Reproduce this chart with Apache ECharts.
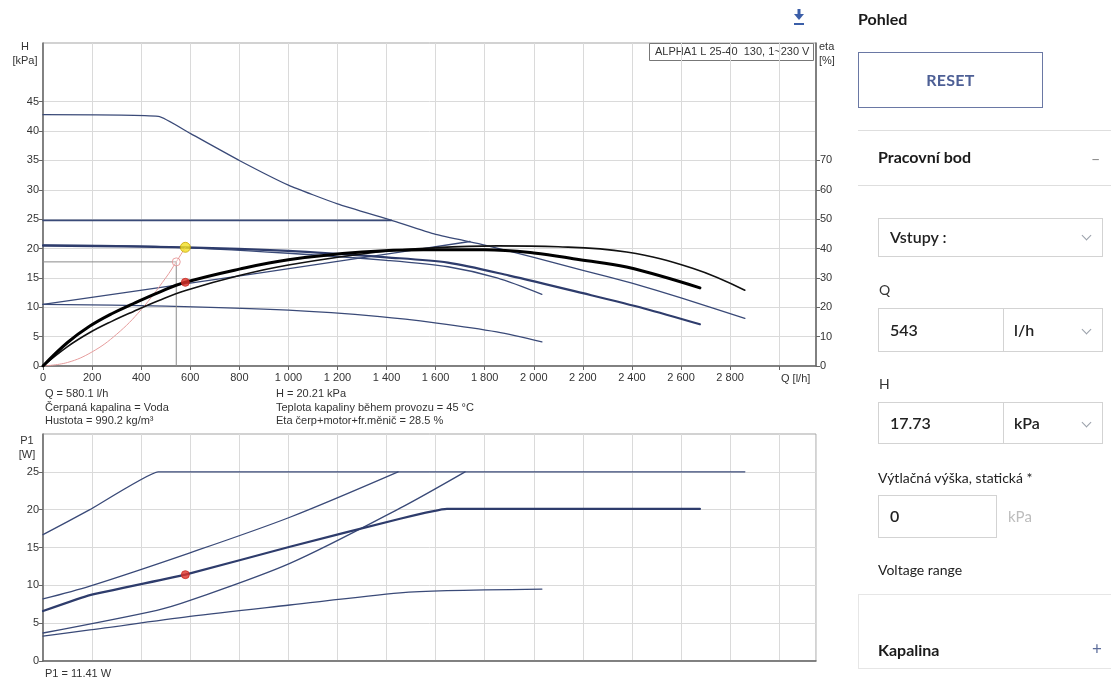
<!DOCTYPE html>
<html>
<head>
<meta charset="utf-8">
<title>ALPHA1 L 25-40 130</title>
<script src="https://cdn.jsdelivr.net/npm/echarts@6/dist/echarts.min.js"></script>
<style>
  html, body { margin: 0; padding: 0; background: #fff; width: 1111px; height: 679px; overflow: hidden; }
  #chart { position: absolute; left: 0; top: 0; width: 845px; height: 679px; }
  #panel { position: absolute; left: 0; top: 0; width: 1111px; height: 679px; pointer-events: none;
           font-family: Lato, "Noto Sans", sans-serif; color: #1a1a1a; }
  #panel div { position: absolute; }
  .t { white-space: nowrap; line-height: 20px; }
  .b { font-weight: 700; font-size: 16px; }
  .lbl { font-size: 14px; color: #333; }
  .box { border: 1px solid #d3d3d3; box-sizing: border-box; }
  .val { font-size: 16px; font-weight: 600; color: #222; }
  .hr { height: 1px; background: #dedede; }
  .chev { width: 6px; height: 6px; border-right: 1px solid #9aa0aa; border-bottom: 1px solid #9aa0aa; transform: rotate(45deg); }
</style>
</head>
<body>
<div id="chart"></div>
<div id="panel">
  <div class="t b" style="left:858px; top:9px;">Pohled</div>
  <div style="left:858px; top:52px; width:185px; height:56px; border:1px solid #6a78a4; box-sizing:border-box;"></div>
  <div class="t b" style="left:858px; top:70px; width:185px; text-align:center; color:#4d5f95; letter-spacing:0.3px;">RESET</div>
  <div class="hr" style="left:858px; top:130px; width:253px;"></div>
  <div class="t b" style="left:878px; top:147px;">Pracovní bod</div>
  <div class="t" style="left:1091px; top:148px; font-size:16px; color:#888;">–</div>
  <div class="hr" style="left:858px; top:185px; width:253px;"></div>

  <div class="box" style="left:878px; top:218px; width:225px; height:39px;"></div>
  <div class="t val" style="left:890px; top:227px;">Vstupy :</div>
  <div class="chev" style="left:1083px; top:232px;"></div>

  <div class="t lbl" style="left:879px; top:280px;">Q</div>
  <div class="box" style="left:878px; top:308px; width:126px; height:44px;"></div>
  <div class="box" style="left:1003px; top:308px; width:100px; height:44px;"></div>
  <div class="t val" style="left:890px; top:320px;">543</div>
  <div class="t val" style="left:1014px; top:320px;">l/h</div>
  <div class="chev" style="left:1083px; top:326px;"></div>

  <div class="t lbl" style="left:879px; top:374px;">H</div>
  <div class="box" style="left:878px; top:402px; width:126px; height:42px;"></div>
  <div class="box" style="left:1003px; top:402px; width:100px; height:42px;"></div>
  <div class="t val" style="left:890px; top:413px;">17.73</div>
  <div class="t val" style="left:1014px; top:413px;">kPa</div>
  <div class="chev" style="left:1083px; top:419px;"></div>

  <div class="t lbl" style="left:878px; top:468px; color:#222;">Výtlačná výška, statická *</div>
  <div class="box" style="left:878px; top:495px; width:119px; height:43px;"></div>
  <div class="t val" style="left:890px; top:506px;">0</div>
  <div class="t" style="left:1008px; top:506px; font-size:15px; color:#bdbdbd;">kPa</div>

  <div class="t lbl" style="left:878px; top:560px; color:#222;">Voltage range</div>

  <div style="left:858px; top:594px; width:253px; height:75px; border:1px solid #e6e6e6; border-right:none; box-sizing:border-box;"></div>
  <div class="t b" style="left:878px; top:640px;">Kapalina</div>
  <div class="t" style="left:1092px; top:639px; font-size:17px; color:#5d6d9b;">+</div>
</div>

<script>
// ---- Flow axis (Q, l/h) ----
const qMin = 0, qMax = 3150, qStep = 200;
const qTicks = [0, 200, 400, 600, 800, 1000, 1200, 1400, 1600, 1800, 2000, 2200, 2400, 2600, 2800, 3000];

// ---- Labelled ticks on the value axes ----
const hTicks   = [0, 5, 10, 15, 20, 25, 30, 35, 40, 45];
const etaTicks = [0, 10, 20, 30, 40, 50, 60, 70];
const p1Ticks  = [0, 5, 10, 15, 20, 25];

// ---- Pump curves, head H [kPa] vs Q [l/h] ----
const hMax      = [[0,42.8],[470,42.5],[600,39.6],[800,35.0],[1000,30.8],[1200,27.6],[1420,24.8],[1600,22.4],[1800,20.6],[2000,18.5],[2200,16.3],[2400,14.1],[2600,11.6],[2860,8.1]];
const hConstP   = [[0,24.8],[1420,24.8]];
const hSelected = [[0,20.5],[580.1,20.21],[1000,19.6],[1400,18.5],[1650,17.6],[1900,15.4],[2200,12.4],[2450,9.8],[2677,7.1]];
const hCurveB   = [[0,20.6],[500,20.3],[1000,19.2],[1400,18.0],[1650,16.9],[1850,15.0],[2033,12.2]];
const hPropP    = [[0,10.5],[600,14.1],[1200,17.8],[1740,21.2]];
const hSpeedI   = [[0,10.5],[500,10.2],[1000,9.5],[1373,8.4],[1605,7.3],[1849,5.8],[2033,4.1]];

// ---- Efficiency eta [%] vs Q ----
const etaSelected = [[0,0],[100,8.0],[191,13.6],[280,17.8],[367,21.2],[470,25.0],[580.1,28.5],[800,33.0],[1000,36.2],[1300,38.8],[1550,39.6],[1800,39.6],[2000,38.5],[2188,36.2],[2378,33.7],[2677,26.6]];
const etaMax      = [[0,0],[100,6.6],[191,11.4],[280,15.2],[367,18.5],[470,22.2],[581,25.7],[800,30.8],[1000,34.4],[1373,38.9],[1600,40.3],[1850,40.9],[2100,40.6],[2378,38.8],[2650,33.2],[2860,25.8]];

// ---- Power input P1 [W] vs Q ----
const p1Max      = [[0,16.7],[191,20.0],[469,25.0],[2860,25.0]];
const p1ConstP   = [[0,8.2],[191,9.9],[599,14.3],[1006,19.0],[1447,25.0]];
const p1Selected = [[0,6.6],[191,8.7],[580.1,11.41],[1006,15.1],[1455,18.8],[1646,20.1],[2677,20.1]];
const p1PropP    = [[0,3.7],[464,6.7],[599,8.0],[1006,12.9],[1455,20.2],[1720,25.0]];
const p1SpeedI   = [[0,3.3],[191,4.1],[599,5.9],[1006,7.4],[1455,9.0],[1646,9.3],[2033,9.5]];

// ---- System curve through the requested point ----
const systemCurve = [[0,0],[100,0.6],[200,2.4],[300,5.4],[400,9.6],[500,15.0],[543,17.73],[580.1,20.21]];

// ---- Requested and resulting duty point ----
const reqQ = 543, reqH = 17.73;
const dutyQ = 580.1, dutyH = 20.21, dutyEta = 28.5, dutyP1 = 11.41;

// ---- Info texts ----
const infoLeft  = ['Q = 580.1 l/h', 'Čerpaná kapalina = Voda', 'Hustota = 990.2 kg/m³'];
const infoRight = ['H = 20.21 kPa', 'Teplota kapaliny během provozu = 45 °C', 'Eta čerp+motor+fr.měnič = 28.5 %'];
const pumpName = 'ALPHA1 L 25-40  130, 1~230 V';

const FONT = '"Liberation Sans", Arial, sans-serif';
const TXT = '#333';
const BLUE = '#3a4a78';
const GRIDC = '#dadada';
const AXC = '#666';

function fmtQ(v) {
  if (v >= 3000) return '';
  if (v >= 1000) return Math.floor(v / 1000) + ' ' + String(v % 1000).padStart(3, '0');
  return String(v);
}

function curve(data, xi, yi, color, width, smooth) {
  return {
    type: 'line', data: data, xAxisIndex: xi, yAxisIndex: yi,
    symbol: 'none', silent: true, smooth: smooth,
    lineStyle: { color: color, width: width, cap: 'round', join: 'round' }
  };
}

function pt(q, v, xi, yi, size, fill, stroke) {
  return {
    type: 'scatter', xAxisIndex: xi, yAxisIndex: yi, data: [[q, v]], symbolSize: size, silent: true, z: 10,
    itemStyle: { color: fill, borderColor: stroke, borderWidth: 1 }
  };
}

function txt(x, y, s, align) {
  return { type: 'text', x: x, y: y, silent: true,
           style: { text: s, fill: TXT, font: '11px ' + FONT, align: align || 'left', verticalAlign: 'middle' } };
}

function valueAxis(grid, pos, max, step, ticks) {
  return {
    type: 'value', gridIndex: grid, position: pos, min: 0, max: max, interval: step,
    axisLine: { show: true, lineStyle: { color: AXC, width: 1.5 } },
    axisTick: { show: true, length: 4, customValues: ticks, lineStyle: { color: AXC } },
    axisLabel: { customValues: ticks, color: TXT, fontSize: 11, margin: 4, fontFamily: FONT },
    splitLine: { show: pos === 'left', lineStyle: { color: GRIDC } }
  };
}

const xAxisBase = {
  type: 'value', min: qMin, max: qMax, interval: qStep,
  axisLine: { show: true, lineStyle: { color: AXC, width: 1.5 } },
  splitLine: { show: true, lineStyle: { color: GRIDC, width: 1 } }
};

const chart = echarts.init(document.getElementById('chart'), null, { renderer: 'canvas' });

const graphics = [
  txt(25, 47, 'H', 'center'), txt(25, 61, '[kPa]', 'center'),
  txt(819, 47, 'eta'), txt(819, 61, '[%]'),
  txt(781, 379, 'Q [l/h]'),
  txt(27, 441, 'P1', 'center'), txt(27, 455, '[W]', 'center'),
  txt(45, 674, 'P1 = ' + dutyP1.toFixed(2) + ' W'),
  { type: 'rect', shape: { x: 649.5, y: 43.5, width: 164, height: 17 }, silent: true,
    style: { fill: '#fff', stroke: '#777', lineWidth: 1 } },
  txt(655, 52, pumpName),
  // download icon
  { type: 'rect', shape: { x: 797.5, y: 9, width: 3, height: 6 }, style: { fill: '#3b5ea8' }, silent: true },
  { type: 'polygon', shape: { points: [[794, 14], [804, 14], [799, 20]] }, style: { fill: '#3b5ea8' }, silent: true },
  { type: 'rect', shape: { x: 794, y: 23, width: 10, height: 2 }, style: { fill: '#3b5ea8' }, silent: true }
];
infoLeft.forEach((s, i) => graphics.push(txt(45, 394 + i * 13.5, s)));
infoRight.forEach((s, i) => graphics.push(txt(276, 394 + i * 13.5, s)));

const option = {
  animation: false,
  backgroundColor: '#fff',
  textStyle: { fontFamily: FONT },
  grid: [
    { left: 43, top: 43, width: 773, height: 323, show: true, borderColor: '#a5a5a5', borderWidth: 1, backgroundColor: 'transparent' },
    { left: 43, top: 434, width: 773, height: 227, show: true, borderColor: '#a5a5a5', borderWidth: 1, backgroundColor: 'transparent' }
  ],
  xAxis: [
    Object.assign({}, xAxisBase, {
      gridIndex: 0,
      axisTick: { show: true, length: 4, customValues: qTicks, lineStyle: { color: AXC } },
      axisLabel: { show: true, customValues: qTicks, formatter: fmtQ, color: TXT, fontSize: 11, margin: 6, fontFamily: FONT }
    }),
    Object.assign({}, xAxisBase, {
      gridIndex: 1,
      axisTick: { show: false },
      axisLabel: { show: false }
    })
  ],
  yAxis: [
    valueAxis(0, 'left', 55, 5, hTicks),
    valueAxis(0, 'right', 110, 10, etaTicks),
    valueAxis(1, 'left', 30, 5, p1Ticks)
  ],
  series: [
    // head curves
    curve(hMax, 0, 0, BLUE, 1.3, 0.15),
    curve(hConstP, 0, 0, BLUE, 1.6, false),
    curve(hCurveB, 0, 0, BLUE, 1.3, 0.3),
    curve(hPropP, 0, 0, BLUE, 1.3, 0.3),
    curve(hSpeedI, 0, 0, BLUE, 1.3, 0.3),
    curve(hSelected, 0, 0, '#2e3c6c', 2.2, 0.3),
    // requested point guides and system curve
    curve([[0, reqH], [reqQ, reqH]], 0, 0, '#8a8a8a', 1, false),
    curve([[reqQ, reqH], [reqQ, 0]], 0, 0, '#8a8a8a', 1, false),
    curve(systemCurve, 0, 0, '#e69c9c', 1, 0.4),
    // efficiency curves
    curve(etaMax, 0, 1, '#111', 1.6, 0.4),
    curve(etaSelected, 0, 1, '#000', 3, 0.4),
    // power curves
    curve(p1Max, 1, 2, BLUE, 1.3, 0.1),
    curve(p1ConstP, 1, 2, BLUE, 1.3, 0.3),
    curve(p1PropP, 1, 2, BLUE, 1.3, 0.3),
    curve(p1SpeedI, 1, 2, BLUE, 1.3, 0.3),
    curve(p1Selected, 1, 2, '#2e3c6c', 2.2, 0.1),
    // points
    pt(reqQ, reqH, 0, 0, 8, 'rgba(255,255,255,0.4)', '#e58b8b'),
    pt(dutyQ, dutyH, 0, 0, 10, '#f3e020', '#c9a400'),
    pt(dutyQ, dutyEta, 0, 1, 8, '#e0332b', '#c62820'),
    pt(dutyQ, dutyP1, 1, 2, 8, '#e0332b', '#c62820')
  ],
  graphic: graphics
};

chart.setOption(option);
</script>
</body>
</html>
